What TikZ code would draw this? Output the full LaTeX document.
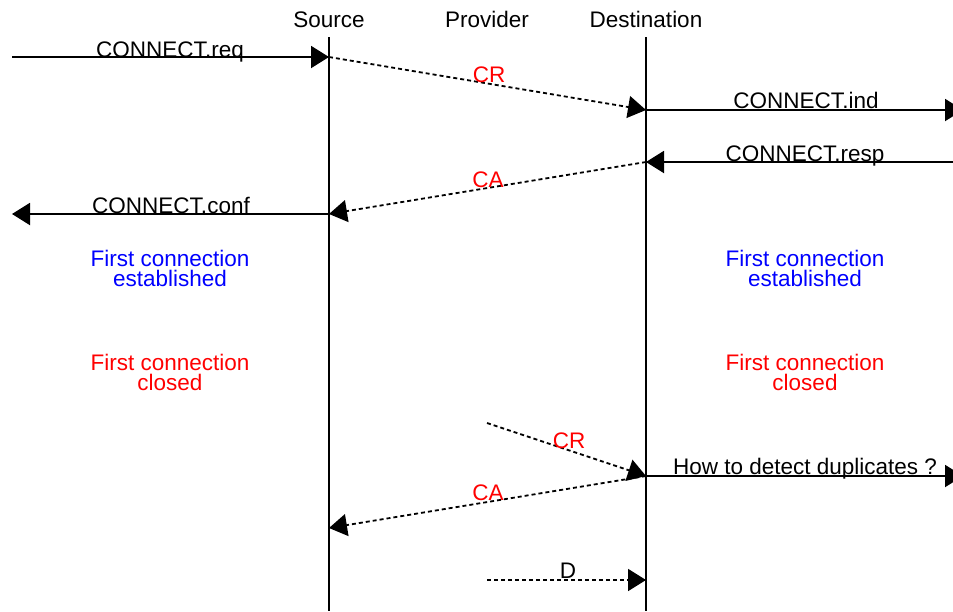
\documentclass[tikz,border=0pt]{standalone}
\usepackage{fontspec}
\setmainfont{Liberation Sans}
\usetikzlibrary{arrows.meta}
\definecolor{msgred}{RGB}{255,0,0}
\definecolor{msgblue}{RGB}{0,0,255}
\begin{document}
\begin{tikzpicture}[x=1pt,y=-1pt,
  lbl/.style={font=\fontsize{22.5}{24}\selectfont, inner sep=0pt, anchor=base, text height=16pt, text depth=0pt},
  state/.style={font=\fontsize{22.5}{20}\selectfont, inner sep=0pt, anchor=base, align=center},
  life/.style={line width=2pt},
  solidmsg/.style={line width=2pt, -{Triangle[length=18pt,width=22pt]}},
  dashmsg/.style={line width=1.8pt, dash pattern=on 4pt off 3pt, -{Triangle[length=18pt,width=22pt]}}]
\useasboundingbox (0,0) rectangle (953,611);
% titles
\node[lbl] (tsrc) at (329,27) {Source};
\node[lbl] (tprov) at (487,27) {Provider};
\node[lbl] (tdst) at (646,27) {Destination};
% lifelines
\coordinate (s0) at (329,37); \coordinate (s1) at (329,611);
\coordinate (d0) at (646,37); \coordinate (d1) at (646,611);
\draw[life] (s0) -- (s1);
\draw[life] (d0) -- (d1);
% points
\coordinate (reqL) at (12,57);   \coordinate (reqS) at (329,57);
\coordinate (crD) at (646,110);  \coordinate (indR) at (963,110);
\coordinate (respR) at (953,162); \coordinate (respD) at (646,162);
\coordinate (caS) at (329,214);  \coordinate (confL) at (12,214);
\coordinate (cr2P) at (487,423); \coordinate (cr2D) at (646,476);
\coordinate (dupR) at (963,476);
\coordinate (ca2S) at (329,528);
\coordinate (dP) at (487,580); \coordinate (dD) at (646,580);
% messages
\draw[solidmsg] (reqL) -- (reqS);
\node[lbl] (lreq) at (170,57) {CONNECT.req};
\draw[dashmsg] (reqS) -- (crD);
\node[lbl, text=msgred] (lcr) at (489,82) {CR};
\draw[solidmsg] (crD) -- (indR);
\node[lbl] (lind) at (806,108) {CONNECT.ind};
\draw[solidmsg] (respR) -- (respD);
\node[lbl] (lresp) at (805,161) {CONNECT.resp};
\draw[dashmsg] (respD) -- (caS);
\node[lbl, text=msgred] (lca) at (488,187) {CA};
\draw[solidmsg] (caS) -- (confL);
\node[lbl] (lconf) at (171,213) {CONNECT.conf};
% states
\node[state, text=msgblue] (e1) at (170,286) {First connection\\established};
\node[state, text=msgblue] (e2) at (805,286) {First connection\\established};
\node[state, text=msgred] (c1) at (170,390) {First connection\\closed};
\node[state, text=msgred] (c2) at (805,390) {First connection\\closed};
% duplicates
\draw[dashmsg] (cr2P) -- (cr2D);
\node[lbl, text=msgred] (lcr2) at (569,448) {CR};
\draw[solidmsg] (cr2D) -- (dupR);
\node[lbl] (ldup) at (805,474) {How to detect duplicates ?};
\draw[dashmsg] (cr2D) -- (ca2S);
\node[lbl, text=msgred] (lca2) at (488,500) {CA};
\draw[dashmsg] (dP) -- (dD);
\node[lbl] (ld) at (568,578) {D};
\end{tikzpicture}
\end{document}
